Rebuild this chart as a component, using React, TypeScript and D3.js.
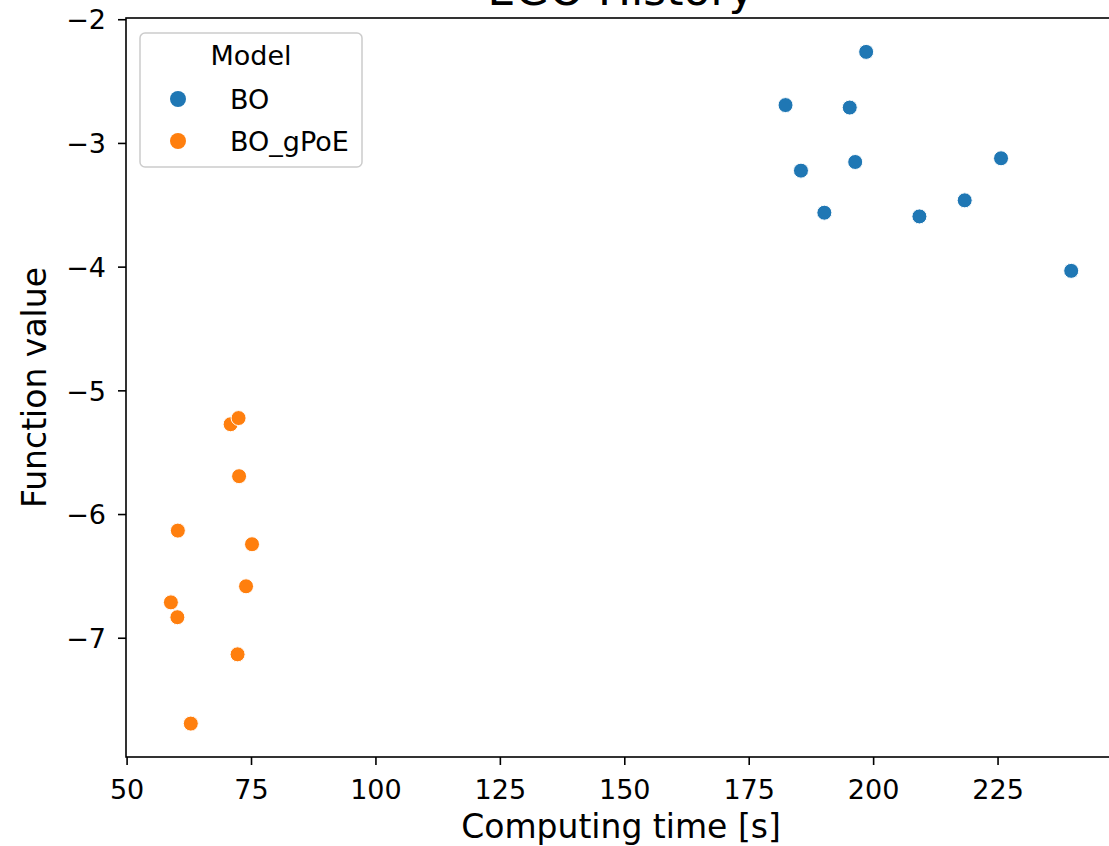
import React from 'react';
import * as d3 from 'd3';

// BO runs: computing time [s] and best function value
const boTime = [198.5, 182.3, 195.2, 185.4, 196.3, 190.1, 209.2, 218.3, 225.6, 239.7];
const boValue = [-2.26, -2.69, -2.71, -3.22, -3.15, -3.56, -3.59, -3.46, -3.12, -4.03];

// BO_gPoE runs
const gpoeTime = [70.8, 72.4, 72.5, 60.2, 75.1, 73.9, 58.8, 60.1, 72.2, 62.8];
const gpoeValue = [-5.27, -5.22, -5.69, -6.13, -6.24, -6.58, -6.71, -6.83, -7.13, -7.69];

const xTicks = [50, 75, 100, 125, 150, 175, 200, 225];
const yTicks = [-7, -6, -5, -4, -3, -2];

const models = [
  { name: 'BO', color: '#1f77b4', time: boTime, value: boValue },
  { name: 'BO_gPoE', color: '#ff7f0e', time: gpoeTime, value: gpoeValue },
];

const W = 1109;
const H = 846;
const font = 'DejaVu Sans, sans-serif';

const App = () => {
  const x = d3.scaleLinear().domain([49.78, 248.7]).range([126, 1116]);
  const y = d3.scaleLinear().domain([-7.96, -1.986]).range([757, 18]);
  const [x0, x1] = x.range();
  const [yBottom, yTop] = y.range();

  return (
    <svg width={W} height={H} style={{ position: 'absolute', left: 0, top: 0 }} fontFamily={font}>
      <rect width={W} height={H} fill="#fff" />

      {/* title, mostly cropped above the picture */}
      <text x={(x0 + x1) / 2} y={5} textAnchor="middle" fontSize={44} fill="#000">
        EGO History
      </text>

      {/* points */}
      {models.map(m => (
        <g key={m.name}>
          {m.time.map((t, i) => (
            <circle key={i} cx={x(t)} cy={y(m.value[i])} r={7.5} fill={m.color} stroke="#fff" strokeWidth={1} />
          ))}
        </g>
      ))}

      {/* spines */}
      <rect x={x0} y={yTop} width={x1 - x0} height={yBottom - yTop} fill="none" stroke="#000" strokeWidth={1.6} />

      {/* x axis */}
      {xTicks.map(t => (
        <g key={t} transform={`translate(${x(t)},${yBottom})`}>
          <line y2={8} stroke="#000" strokeWidth={1.6} />
          <text y={42} textAnchor="middle" fontSize={27} fill="#000">{t}</text>
        </g>
      ))}
      <text x={(x0 + x1) / 2} y={838} textAnchor="middle" fontSize={33} fill="#000">
        Computing time [s]
      </text>

      {/* y axis */}
      {yTicks.map(t => (
        <g key={t} transform={`translate(${x0},${y(t)})`}>
          <line x2={-8} stroke="#000" strokeWidth={1.6} />
          <text x={-20} dy="0.36em" textAnchor="end" fontSize={27} fill="#000">{'\u2212' + Math.abs(t)}</text>
        </g>
      ))}
      <text transform={`translate(46,${(yTop + yBottom) / 2}) rotate(-90)`} textAnchor="middle" fontSize={33} fill="#000">
        Function value
      </text>

      {/* legend */}
      <g>
        <rect x={140} y={33} width={222} height={134} rx={5} fill="#fff" fillOpacity={0.8} stroke="#ccc" strokeWidth={1.5} />
        <text x={251} y={65} textAnchor="middle" fontSize={27} fill="#000">Model</text>
        {models.map((m, i) => (
          <g key={m.name} transform={`translate(0,${99 + i * 42})`}>
            <circle cx={178} cy={0} r={8} fill={m.color} />
            <text x={230} dy="0.36em" fontSize={27} fill="#000">{m.name}</text>
          </g>
        ))}
      </g>
    </svg>
  );
};

export default App;
